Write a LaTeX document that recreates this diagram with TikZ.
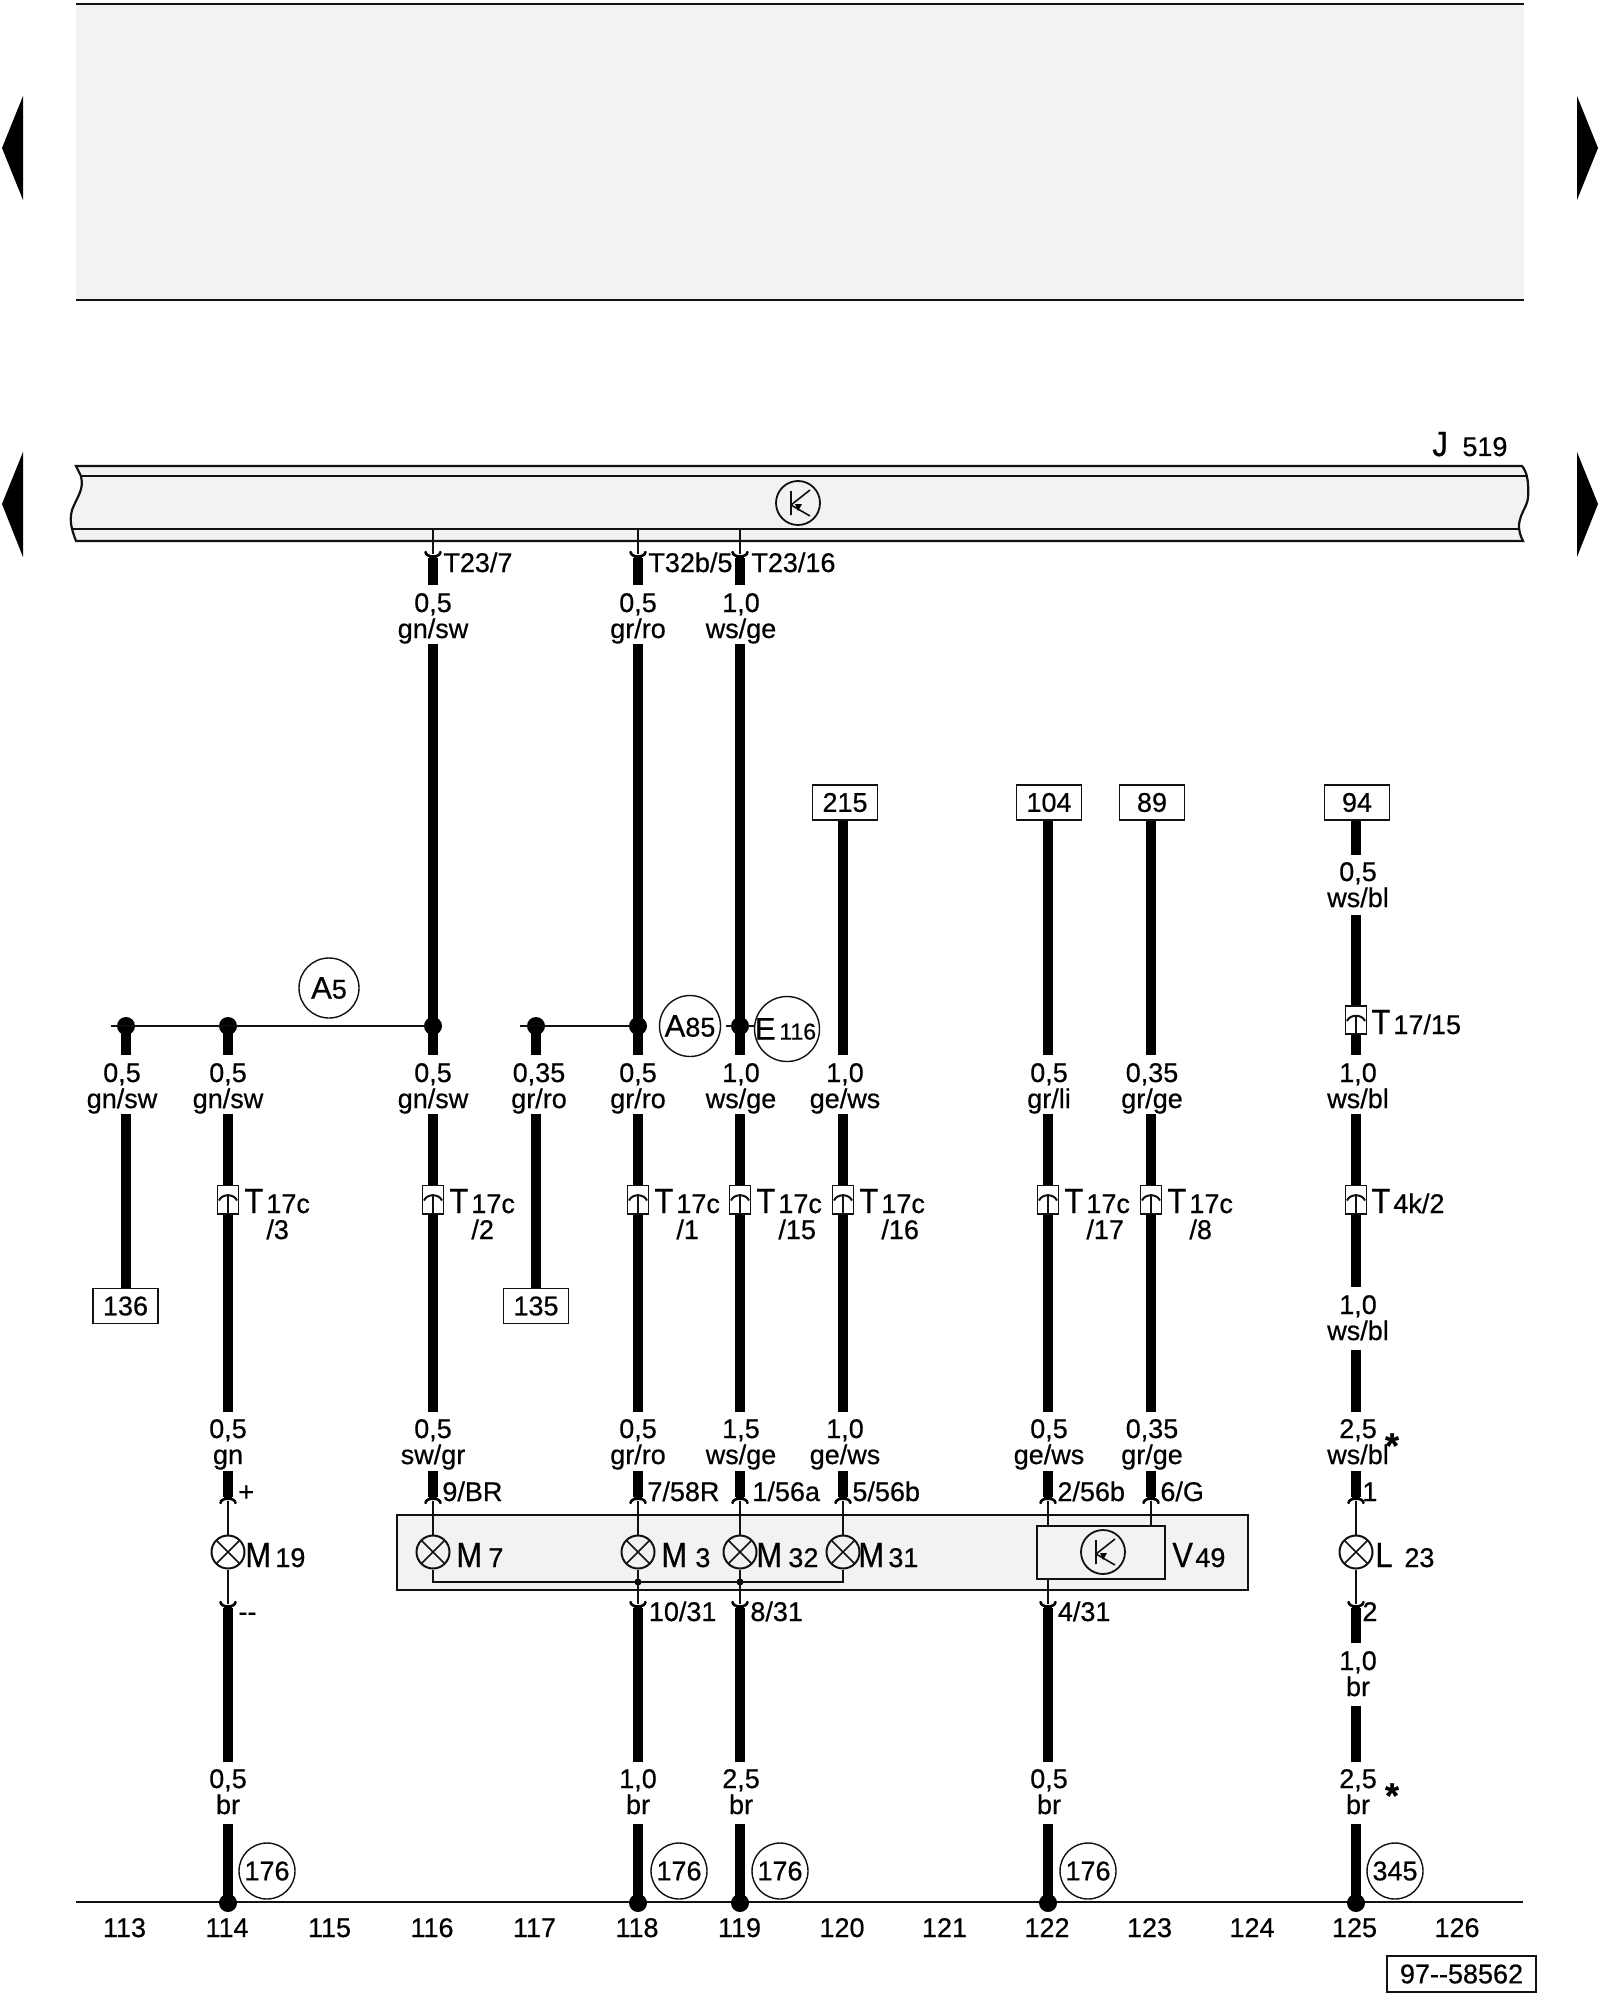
\documentclass[tikz,border=0pt]{standalone}
\usepackage{fontspec}
\setmainfont[FakeBold=0.5]{Liberation Sans}
\newfontfamily\bigfam[FakeStretch=0.88,FakeBold=0.5]{Liberation Sans}
\definecolor{panel}{HTML}{F2F2F2}
\definecolor{ink}{HTML}{111111}
\newcommand\fn{\fontsize{13.5}{14}\selectfont}
\newcommand\fb{\bigfam\fontsize{17.5}{18}\selectfont}
\newcommand\fa{\fontsize{15.5}{16}\selectfont}
\newcommand\fs{\fontsize{11.5}{12}\selectfont}
\tikzset{
  x=0.5pt,y=-0.5pt,
  wire/.style={line width=5.3pt,line cap=butt,black},
  thinl/.style={line width=0.85pt,ink},
  pinl/.style={line width=0.85pt,ink,shorten <=1pt},
  rule/.style={line width=1pt,ink},
  lbl/.style={font=\fn,inner sep=0pt,anchor=base},
  lbw/.style={font=\fn,inner sep=0pt,anchor=base west},
  bigl/.style={font=\fb,inner sep=0pt,anchor=base west},
  refbox/.style={draw=ink,line width=0.9pt,fill=white,minimum width=32.5pt,minimum height=17.5pt,inner sep=0pt,font=\fn},
  dotn/.style={circle,fill=black,minimum size=9pt,inner sep=0pt},
  smalldot/.style={circle,fill=black,minimum size=3.5pt,inner sep=0pt},
  ring/.style={circle,draw=ink,line width=0.7pt,inner sep=0pt,font=\fn},
  lampn/.style={circle,draw=ink,line width=1pt,minimum size=16.5pt,inner sep=0pt,
    path picture={\draw[line width=0.8pt,ink] (path picture bounding box.north west)--(path picture bounding box.south east)
      (path picture bounding box.north east)--(path picture bounding box.south west);}},
  connbox/.style={draw=ink,line width=0.8pt,fill=white,minimum width=10.5pt,minimum height=14.2pt,inner sep=0pt},
  transn/.style={circle,draw=ink,line width=0.9pt,minimum size=22pt,inner sep=0pt},
  tri/.style={fill=black,draw=none},
}
\newcommand\wseg[4]{\coordinate (#1a) at (#2,#3); \coordinate (#1b) at (#2,#4); \draw[wire] (#1a) -- (#1b);}
\newcommand\dlab[5]{\node[lbl] (#1a) at (#2,#3) {#4}; \node[lbl] (#1b) at (#2,#3+26) {#5};}
\newcommand\conn[3]{\node[connbox] (#1) at (#2,#3) {};
  \draw[thinl] ([yshift=-7.1pt]#1.center) -- ([shift={(0,-5.5)}]#1.center)
    ([shift={(0,-3)}]#1.center) -- ([shift={(0,10)}]#1.center);
  \draw[thinl,line width=1pt] ([shift={(-9,1)}]#1.center) .. controls ([shift={(-6,-6)}]#1.center) and ([shift={(6,-6)}]#1.center) .. ([shift={(9,1)}]#1.center);}
\newcommand\tlab[3]{\node[bigl] (#1t) at (#2+16,1213) {T}; \node[lbw] (#1u) at (#2+38,1213) {17c}; \node[lbw] (#1v) at (#2+38,1239) {/#3};}
\newcommand\cupdn[3]{\coordinate (#1) at (#2,#3);
  \fill ([shift={(-5,-5)}]#1) -- ([shift={(5,-5)}]#1) -- ([shift={(3,1)}]#1) -- ([shift={(-3,1)}]#1) -- cycle;
  \draw[line width=1.3pt,black,line cap=round] ([shift={(-7.5,4)}]#1) .. controls ([shift={(-7,-2)}]#1) and ([shift={(7,-2)}]#1) .. ([shift={(7.5,4)}]#1);}
\newcommand\cupup[3]{\coordinate (#1) at (#2,#3);
  \fill ([shift={(-5,5)}]#1) -- ([shift={(5,5)}]#1) -- ([shift={(3,-1)}]#1) -- ([shift={(-3,-1)}]#1) -- cycle;
  \draw[line width=1.3pt,black,line cap=round] ([shift={(-7.5,-4)}]#1) .. controls ([shift={(-7,2)}]#1) and ([shift={(7,2)}]#1) .. ([shift={(7.5,-4)}]#1);}
\newcommand\trans[1]{\draw[line width=0.8pt,ink] ([shift={(-7,-12)}]#1.center) -- ([shift={(-7,12)}]#1.center)
   ([shift={(12,-13)}]#1.center) -- ([shift={(-7,2)}]#1.center) -- ([shift={(12,13)}]#1.center);
   \fill ([shift={(-3,1)}]#1.center) -- ([shift={(4,1)}]#1.center) -- ([shift={(0,8)}]#1.center) -- cycle;}
\begin{document}
\begin{tikzpicture}
\useasboundingbox (0,0) rectangle (1600,2000);
\fill[white] (0,0) rectangle (1600,2000);
\fill[panel] (76,4) rectangle (1524,300);
\draw[rule] (76,4) -- (1524,4);
\draw[rule] (76,300) -- (1524,300);
\fill[tri] (23,96) -- (2,148) -- (23,200) -- cycle;
\fill[tri] (23,452) -- (2,504) -- (23,557) -- cycle;
\fill[tri] (1577,96) -- (1598,148) -- (1577,200) -- cycle;
\fill[tri] (1577,452) -- (1598,504) -- (1577,557) -- cycle;
\path[fill=panel,draw=ink,line width=1.1pt]
  (76,466) -- (1522,466) .. controls (1527,472) and (1529,482) .. (1528,498)
  .. controls (1527,510) and (1512,520) .. (1523,541) -- (76,541)
  .. controls (72,530) and (69,522) .. (72,510) .. controls (78,495) and (84,490) .. (81,476) -- cycle;
\draw[rule] (81,476) -- (1528,476);
\draw[rule] (71,529) -- (1519,529);
\node[transn] (kj) at (798,503) {};
\trans{kj}
\node[bigl] (jn) at (1432,456) {J};
\node[lbw] (jm) at (1462,456) {519};
\coordinate (b116) at (433,529); \coordinate (b118) at (638,529); \coordinate (b119) at (740,529);
\cupup{p116}{433}{556}\cupup{p118}{638}{556}\cupup{p119}{740}{556}
\draw[thinl] (b116) -- ([yshift=1pt]p116); \draw[thinl] (b118) -- ([yshift=1pt]p118); \draw[thinl] (b119) -- ([yshift=1pt]p119);
\node[lbw] (t1) at (443,572) {T23/7};
\node[lbw] (t2) at (648,572) {T32b/5};
\node[lbw] (t3) at (751,572) {T23/16};
\wseg{s1}{433}{558}{585}\wseg{s2}{638}{558}{585}\wseg{s3}{740}{558}{585}
\dlab{la1}{433}{612}{0,5}{gn/sw}
\dlab{la2}{638}{612}{0,5}{gr/ro}
\dlab{la3}{741}{612}{1,0}{ws/ge}
\node[refbox] (r215) at (845,802.5) {215};
\node[refbox] (r104) at (1049,802.5) {104};
\node[refbox] (r89) at (1152,802.5) {89};
\node[refbox] (r94) at (1357,802.5) {94};
\node[refbox] (r136) at (125.5,1306) {136};
\node[refbox] (r135) at (536,1306) {135};
\node[dotn] (d113) at (126,1026) {};
\node[dotn] (d114) at (228,1026) {};
\node[dotn] (d116) at (433,1026) {};
\node[dotn] (d117) at (536,1026) {};
\node[dotn] (d118) at (638,1026) {};
\node[dotn] (d119) at (740,1026) {};
\coordinate (ja) at (111,1026); \coordinate (jb) at (520,1026); \coordinate (jc) at (726,1026); \coordinate (jd) at (755,1026);
\draw[thinl,line width=1pt] (ja) -- (d116.center);
\draw[thinl,line width=1pt] (jb) -- (d118.center);
\draw[thinl,line width=1pt] (jc) -- (jd);
\node[ring,minimum size=30pt] (a5) at (329,988) {{\fa A}5};
\node[ring,minimum size=30.5pt,fill=white] (a85) at (690,1026) {{\fa A}85};
\node[ring,minimum size=32.5pt] (e116) at (787,1029) {\hspace*{-1.5pt}{\fa E}{\fs\,116}};
\coordinate (w116t) at (433,644); \coordinate (w118t) at (638,644); \coordinate (w119t) at (740,644);
\draw[wire] (w116t) -- (d116.center); \draw[wire] (w118t) -- (d118.center); \draw[wire] (w119t) -- (d119.center);
\coordinate (w120b) at (843,1055); \coordinate (w122b) at (1048,1055); \coordinate (w123b) at (1151,1055); \coordinate (w125b) at (1356,855);
\draw[wire] (r215.south -| w120b) -- (w120b);
\draw[wire] (r104.south -| w122b) -- (w122b);
\draw[wire] (r89.south -| w123b) -- (w123b);
\draw[wire] (r94.south -| w125b) -- (w125b);
\coordinate (u113) at (126,1055); \coordinate (u114) at (228,1055); \coordinate (u116) at (433,1055);
\coordinate (u117) at (536,1055); \coordinate (u118) at (638,1055); \coordinate (u119) at (740,1055);
\draw[wire] (d113.center) -- (u113); \draw[wire] (d114.center) -- (u114); \draw[wire] (d116.center) -- (u116);
\draw[wire] (d117.center) -- (u117); \draw[wire] (d118.center) -- (u118); \draw[wire] (d119.center) -- (u119);
\dlab{lb1}{122}{1082}{0,5}{gn/sw}
\dlab{lb2}{228}{1082}{0,5}{gn/sw}
\dlab{lb3}{433}{1082}{0,5}{gn/sw}
\dlab{lb4}{539}{1082}{0,35}{gr/ro}
\dlab{lb5}{638}{1082}{0,5}{gr/ro}
\dlab{lb6}{741}{1082}{1,0}{ws/ge}
\dlab{lb7}{845}{1082}{1,0}{ge/ws}
\dlab{lb8}{1049}{1082}{0,5}{gr/li}
\dlab{lb9}{1152}{1082}{0,35}{gr/ge}
\dlab{lb0}{1358}{1082}{1,0}{ws/bl}
\coordinate (v113) at (126,1114); \coordinate (v117) at (536,1114);
\draw[wire] (v113) -- (r136.north -| v113); \draw[wire] (v117) -- (r135.north -| v117);
\wseg{m114}{228}{1114}{1412}\wseg{m116}{433}{1114}{1412}\wseg{m118}{638}{1114}{1412}\wseg{m119}{740}{1114}{1412}
\wseg{m120}{843}{1114}{1412}\wseg{m122}{1048}{1114}{1412}\wseg{m123}{1151}{1114}{1412}
\dlab{lc1}{1358}{881}{0,5}{ws/bl}
\wseg{q1}{1356}{915}{1055}
\wseg{q2}{1356}{1114}{1287}
\dlab{lc2}{1358}{1314}{1,0}{ws/bl}
\wseg{q3}{1356}{1350}{1412}
\conn{c114}{228}{1199.5}\tlab{c114}{228}{3}
\conn{c116}{433}{1199.5}\tlab{c116}{433}{2}
\conn{c118}{638}{1199.5}\tlab{c118}{638}{1}
\conn{c119}{740}{1199.5}\tlab{c119}{740}{15}
\conn{c120}{843}{1199.5}\tlab{c120}{843}{16}
\conn{c122}{1048}{1199.5}\tlab{c122}{1048}{17}
\conn{c123}{1151}{1199.5}\tlab{c123}{1151}{8}
\conn{c125}{1356}{1199.5}
\node[bigl] (c125t) at (1371,1213) {T}; \node[lbw] (c125u) at (1393,1213) {4k/2};
\conn{c126}{1356}{1020}
\node[bigl] (c126t) at (1371,1034) {T}; \node[lbw] (c126u) at (1393,1034) {17/15};
\dlab{ld1}{228}{1438}{0,5}{gn}
\dlab{ld2}{433}{1438}{0,5}{sw/gr}
\dlab{ld3}{638}{1438}{0,5}{gr/ro}
\dlab{ld4}{741}{1438}{1,5}{ws/ge}
\dlab{ld5}{845}{1438}{1,0}{ge/ws}
\dlab{ld6}{1049}{1438}{0,5}{ge/ws}
\dlab{ld7}{1152}{1438}{0,35}{gr/ge}
\dlab{ld8}{1358}{1438}{2,5}{ws/bl}
\node[font=\fontsize{18}{18}\bfseries\selectfont,inner sep=0pt,anchor=base] (st1) at (1392,1458) {*};
\path[fill=panel,draw=ink,line width=1pt] (397,1515) rectangle (1248,1590);
\wseg{e114}{228}{1471}{1497}\wseg{e116}{433}{1471}{1497}\wseg{e118}{638}{1471}{1497}\wseg{e119}{740}{1471}{1497}
\wseg{e120}{843}{1471}{1497}\wseg{e122}{1048}{1471}{1497}\wseg{e123}{1151}{1471}{1497}\wseg{e125}{1356}{1471}{1497}
\cupdn{g114}{228}{1499}\cupdn{g116}{433}{1499}\cupdn{g118}{638}{1499}\cupdn{g119}{740}{1499}
\cupdn{g120}{843}{1499}\cupdn{g122}{1048}{1499}\cupdn{g123}{1151}{1499}\cupdn{g125}{1356}{1499}
\node[lbw] (o1) at (238,1501) {+};
\node[lbw] (o2) at (442,1501) {9/BR};
\node[lbw] (o3) at (647,1501) {7/58R};
\node[lbw] (o4) at (752,1501) {1/56a};
\node[lbw] (o5) at (852,1501) {5/56b};
\node[lbw] (o6) at (1057,1501) {2/56b};
\node[lbw] (o7) at (1160,1501) {6/G};
\node[lbw] (o8) at (1362,1501) {1};
\node[lampn] (lm19) at (228,1552) {};
\node[lampn] (lm7) at (433,1552) {};
\node[lampn] (lm3) at (638,1552) {};
\node[lampn] (lm32) at (740,1552) {};
\node[lampn] (lm31) at (843,1552) {};
\node[lampn] (ll23) at (1356,1552) {};
\node[bigl] (x1) at (245,1567) {M}; \node[lbw] (x1s) at (275,1567) {19};
\node[bigl] (x2) at (456,1567) {M}; \node[lbw] (x2s) at (488,1567) {7};
\node[bigl] (x3) at (661,1567) {M}; \node[lbw] (x3s) at (695,1567) {3};
\node[bigl] (x4) at (756,1567) {M}; \node[lbw] (x4s) at (788,1567) {32};
\node[bigl] (x5) at (858,1567) {M}; \node[lbw] (x5s) at (888,1567) {31};
\node[bigl] (x6) at (1375,1567) {L}; \node[lbw] (x6s) at (1404,1567) {23};
\node[draw=ink,line width=1.1pt,minimum width=64pt,minimum height=26.5pt,inner sep=0pt] (v49) at (1101,1552.5) {};
\node[transn] (kv) at (1103,1552) {};
\trans{kv}
\node[bigl] (x7) at (1172,1567) {V}; \node[lbw] (x7s) at (1195,1567) {49};
\draw[pinl] (g114) -- (lm19); \draw[pinl] (g116) -- (lm7); \draw[pinl] (g118) -- (lm3); \draw[pinl] (g119) -- (lm32);
\draw[pinl] (g120) -- (lm31); \draw[pinl] (g125) -- (ll23);
\draw[pinl] (g122) -- (g122 |- v49.north); \draw[pinl] (g123) -- (g123 |- v49.north);
\node[smalldot] (j118) at (638,1582) {};
\node[smalldot] (j119) at (740,1582) {};
\draw[thinl] (lm7.south) |- (j118.center) -- (j119.center) -| (lm31.south);
\draw[thinl] (lm3.south) -- (j118.center);
\draw[thinl] (lm32.south) -- (j119.center);
\cupup{h114}{228}{1606}\cupup{h118}{638}{1606}\cupup{h119}{740}{1606}\cupup{h122}{1048}{1606}\cupup{h125}{1356}{1606}
\draw[thinl] (lm19.south) -- ([yshift=1pt]h114); \draw[thinl] (j118.center) -- ([yshift=1pt]h118); \draw[thinl] (j119.center) -- ([yshift=1pt]h119);
\draw[thinl] (g122 |- v49.south) -- ([yshift=1pt]h122); \draw[thinl] (ll23.south) -- ([yshift=1pt]h125);
\node[lbw] (y1) at (238,1621) {-{}-};
\node[lbw] (y2) at (648.5,1621) {10/31};
\node[lbw] (y3) at (750,1621) {8/31};
\node[lbw] (y4) at (1057.5,1621) {4/31};
\node[lbw] (y5) at (1362,1621) {2};
\wseg{f114}{228}{1608}{1762}\wseg{f118}{638}{1608}{1762}\wseg{f119}{740}{1608}{1762}\wseg{f122}{1048}{1608}{1762}
\wseg{f125}{1356}{1608}{1643}
\dlab{le0}{1358}{1670}{1,0}{br}
\wseg{f126}{1356}{1706}{1762}
\dlab{le1}{228}{1788}{0,5}{br}
\dlab{le2}{638}{1788}{1,0}{br}
\dlab{le3}{741}{1788}{2,5}{br}
\dlab{le4}{1049}{1788}{0,5}{br}
\dlab{le5}{1358}{1788}{2,5}{br}
\node[font=\fontsize{18}{18}\bfseries\selectfont,inner sep=0pt,anchor=base] (st2) at (1392,1808) {*};
\coordinate (ga) at (76,1902); \coordinate (gb) at (1523,1902);
\draw[rule] (ga) -- (gb);
\node[dotn] (z114) at (228,1903) {};
\node[dotn] (z118) at (638,1903) {};
\node[dotn] (z119) at (740,1903) {};
\node[dotn] (z122) at (1048,1903) {};
\node[dotn] (z125) at (1356,1903) {};
\coordinate (k114) at (228,1824); \coordinate (k118) at (638,1824); \coordinate (k119) at (740,1824);
\coordinate (k122) at (1048,1824); \coordinate (k125) at (1356,1824);
\draw[wire] (k114) -- (z114.center); \draw[wire] (k118) -- (z118.center); \draw[wire] (k119) -- (z119.center);
\draw[wire] (k122) -- (z122.center); \draw[wire] (k125) -- (z125.center);
\node[ring,minimum size=28pt] (n1) at (267,1871) {176};
\node[ring,minimum size=28pt] (n2) at (679,1871) {176};
\node[ring,minimum size=28pt] (n3) at (780,1871) {176};
\node[ring,minimum size=28pt] (n4) at (1088,1871) {176};
\node[ring,minimum size=28pt] (n5) at (1395,1871) {345};
\foreach \n [count=\i from 0] in {113,...,126}
  \node[lbl] (num\n) at ({124.5+102.5*\i},1937) {\n};
\node[draw=ink,line width=1pt,minimum width=74.5pt,minimum height=18pt,inner sep=0pt,font=\fn] (code) at (1461.5,1974) {97-{}-58562};
\end{tikzpicture}
\end{document}
